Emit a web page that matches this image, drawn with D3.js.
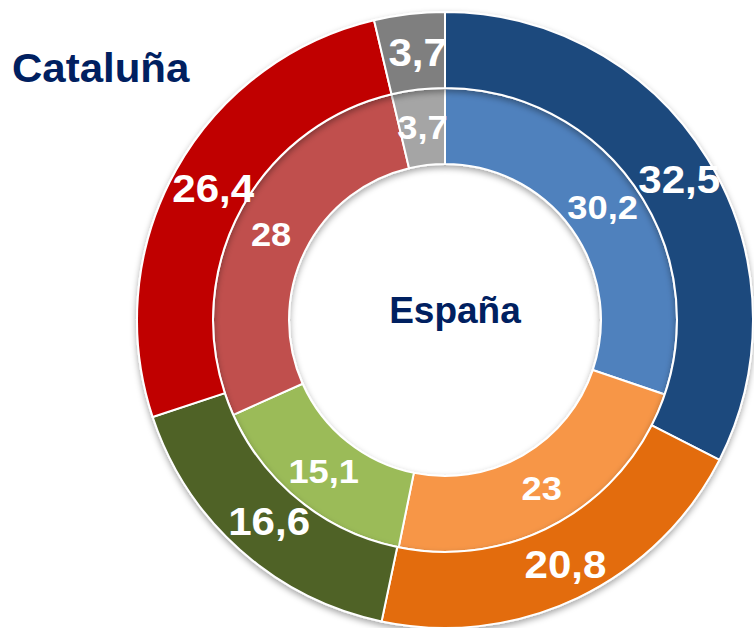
<!DOCTYPE html>
<html>
<head>
<meta charset="utf-8">
<script src="https://cdn.jsdelivr.net/npm/d3@7"></script>
<style>
  html, body { margin: 0; padding: 0; background: #fff; }
  svg { display: block; }
</style>
</head>
<body>
<svg id="chart" width="754" height="628"></svg>
<script>
// Party shares (%) — outer ring Cataluña, inner ring España
const parties = ["A", "B", "C", "D", "E"];
const cataluna = [32.5, 20.8, 16.6, 26.4, 3.7];
const espana = [30.2, 23, 15.1, 28, 3.7];
const outerColors = ["#1F497D", "#E36C09", "#4F6228", "#C00000", "#7F7F7F"];
const innerColors = ["#4F81BD", "#F79646", "#9BBB59", "#C0504D", "#A5A5A5"];
const fmt = v => String(v).replace(".", ",");
const FONT = "Liberation Sans, Arial, sans-serif";

const svg = d3.select("#chart");
const cx = 445, cy = 320;
const rHole = 156, rMid = 232, rOuter = 308;

const defs = svg.append("defs");
const f = defs.append("filter").attr("id", "shadow")
  .attr("x", "-10%").attr("y", "-10%").attr("width", "120%").attr("height", "125%");
f.append("feDropShadow").attr("dx", 0).attr("dy", 3).attr("stdDeviation", 3)
  .attr("flood-color", "#000").attr("flood-opacity", 0.35);

const pie = d3.pie().sort(null).value(d => d);
const g = svg.append("g").attr("transform", `translate(${cx},${cy})`);

function ring(values, colors, r0, r1, fontSize, stretch, shiftX) {
  const arc = d3.arc().innerRadius(r0).outerRadius(r1);
  const gr = g.append("g").attr("filter", "url(#shadow)");
  const arcs = pie(values);
  gr.selectAll("path").data(arcs).join("path")
    .attr("d", arc)
    .attr("fill", (d, i) => colors[i])
    .attr("stroke", "#fff")
    .attr("stroke-width", 2);
  g.append("g").selectAll("text").data(arcs).join("text")
    .attr("transform", d => {
      const [x, y] = arc.centroid(d);
      return `translate(${x + shiftX},${y}) scale(${stretch},1)`;
    })
    .attr("text-anchor", "middle")
    .attr("dy", "0.36em")
    .attr("fill", "#fff")
    .attr("font-family", FONT)
    .attr("font-weight", "bold")
    .attr("font-size", fontSize)
    .text(d => fmt(d.data));
}

ring(espana, innerColors, rHole, rMid, 33, 1.1, 0);
ring(cataluna, outerColors, rMid, rOuter, 39, 1.08, 4);

svg.append("text")
  .attr("transform", "translate(12,82) scale(1.05,1)")
  .attr("fill", "#002060")
  .attr("font-family", FONT)
  .attr("font-weight", "bold")
  .attr("font-size", 40)
  .text("Cataluña");

svg.append("text")
  .attr("x", 455).attr("y", 323)
  .attr("text-anchor", "middle")
  .attr("fill", "#002060")
  .attr("font-family", FONT)
  .attr("font-weight", "bold")
  .attr("font-size", 37)
  .text("España");
</script>
</body>
</html>
